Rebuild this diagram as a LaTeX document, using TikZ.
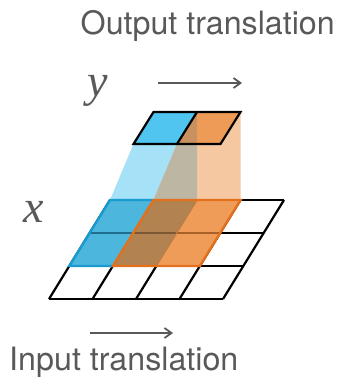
\documentclass[tikz,border=0pt]{standalone}
\usepackage{fontspec}
\setmainfont{TeX Gyre Heros}
\newfontfamily\mathserif{Liberation Serif}
\usetikzlibrary{arrows.meta}
\definecolor{txtgray}{HTML}{595959}
\definecolor{cellblue}{HTML}{4FC5F0}
\definecolor{cellorange}{HTML}{EE9B57}
\definecolor{celldark}{HTML}{C8915F}
\definecolor{projblue}{HTML}{A5E1F7}
\definecolor{projorange}{HTML}{F5C8A2}
\definecolor{projtan}{HTML}{BCB6A2}
\definecolor{botblue}{HTML}{4DB6DC}
\definecolor{botbrown}{HTML}{B28350}
\definecolor{botorange}{HTML}{EE9C57}
\definecolor{lineblue}{HTML}{1F6E8E}
\definecolor{linebrown}{HTML}{7C5834}
\definecolor{lineorange}{HTML}{A95F28}
\definecolor{linefaint}{HTML}{BC7E46}
\definecolor{edgeblue}{HTML}{179BD0}
\definecolor{edgeorange}{HTML}{E2701C}
\tikzset{
  gridline/.style={line width=2.2pt, draw=black},
  label/.style={inner sep=0pt, text=txtgray, font=\fontsize{32.2}{36}\selectfont},
  varlabel/.style={inner sep=0pt, text=txtgray, font=\mathserif\itshape\fontsize{46}{52}\selectfont},
  transarrow/.style={draw=txtgray, line width=1.8pt, -{Straight Barb[length=7pt,width=10pt]}}
}
\begin{document}
\begin{tikzpicture}[x=1pt,y=-1pt]
\useasboundingbox (0,0) rectangle (337,377);
% grid points
\foreach \i in {0,...,4}{
  \foreach \j in {0,...,3}{
    \coordinate (g\i\j) at ({110+43.5*\i-20.333*\j},{200+33*\j});
  }
}
\foreach \i in {0,...,2}{
  \foreach \j in {0,...,1}{
    \coordinate (o\i\j) at ({153.5+43.5*\i-20*\j},{112+32*\j});
  }
}
% projections
\fill[projblue] (o00) -- (o10) -- (g20) -- (g00) -- (o01) -- cycle;
\fill[projorange] (o10) -- (o20) -- (g30) -- (g10) -- (o11) -- cycle;
\fill[projtan] (o10) -- (g20) -- (g10) -- (o11) -- cycle;
% output cells
\fill[cellblue] (o00) -- (o10) -- (o11) -- (o01) -- cycle;
\fill[cellorange] (o10) -- (o20) -- (o21) -- (o11) -- cycle;
\fill[celldark] (o10) -- (o10 |- o11) -- (o11) -- cycle;
\draw[gridline] (o00) -- (o20) -- (o21) -- (o01) -- cycle;
\draw[gridline] (o10) -- (o11);
% input grid
\foreach \j in {0,...,3}{ \draw[gridline] (g0\j) -- (g4\j); }
\foreach \i in {0,...,4}{ \draw[gridline] (g\i0) -- (g\i3); }
\fill[botblue] (g00) -- (g10) -- (g12) -- (g02) -- cycle;
\fill[botbrown] (g10) -- (g20) -- (g22) -- (g12) -- cycle;
\fill[botorange] (g20) -- (g30) -- (g32) -- (g22) -- cycle;
\draw[line width=2.2pt, lineblue] (g01) -- (g11);
\draw[line width=2.2pt, linebrown] (g11) -- (g21);
\draw[line width=2.2pt, lineorange] (g21) -- (g31);
\draw[line width=1.3pt, linefaint] (g20) -- (g22);
\draw[line width=2.4pt, edgeblue] (g10) -- (g00) -- (g02) -- (g12);
\draw[line width=2.4pt, edgeorange] (g10) -- (g30) -- (g32) -- (g12) -- cycle;
% labels
\node[label, anchor=base west] (outlab) at (80.5,35) {Output translation};
\node[label, anchor=base west] (inlab) at (9,370) {Input translation};
\node[varlabel, anchor=base west] (ylab) at (87,96) {y};
\node[varlabel, anchor=base west] (xlab) at (23,222) {x};
% arrows
\coordinate (ta1) at (158,83);
\coordinate (ta2) at (242,83);
\coordinate (ba1) at (90,333);
\coordinate (ba2) at (173,333);
\draw[transarrow] (ta1) -- (ta2);
\draw[transarrow] (ba1) -- (ba2);
\end{tikzpicture}
\end{document}
